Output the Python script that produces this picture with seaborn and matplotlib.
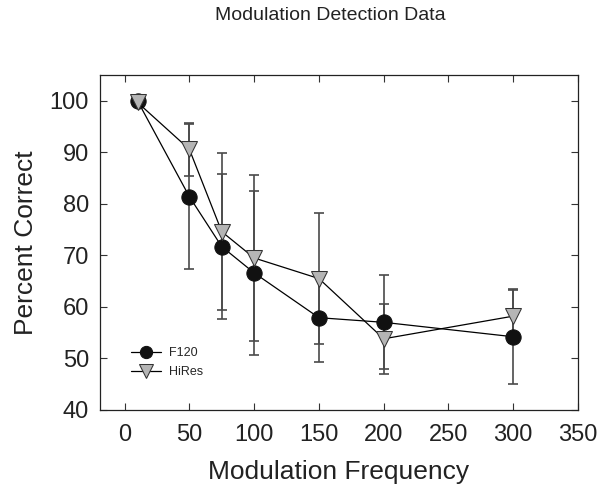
import numpy as np
import pandas as pd
import matplotlib
matplotlib.use('Agg')
import matplotlib.pyplot as plt
import seaborn as sns

# Values
freq = [10, 50, 75, 100, 150, 200, 300]
f120_mean = [100.0, 81.4, 71.7, 66.6, 57.9, 57.0, 54.2]
f120_err = [0.0, 14.1, 14.1, 16.0, 8.6, 9.1, 9.1]
hires_mean = [99.7, 90.6, 74.6, 69.5, 65.5, 53.8, 58.2]
hires_err = [0.0, 5.2, 15.2, 16.2, 12.8, 6.8, 5.3]

x_ticks = [0, 50, 100, 150, 200, 250, 300, 350]
y_ticks = [40, 50, 60, 70, 80, 90, 100]

df = pd.concat([
    pd.DataFrame({'freq': freq, 'pc': f120_mean, 'err': f120_err, 'group': 'F120'}),
    pd.DataFrame({'freq': freq, 'pc': hires_mean, 'err': hires_err, 'group': 'HiRes'}),
])

sns.set_style('ticks')
plt.rcParams['font.family'] = ['Liberation Sans', 'DejaVu Sans']

fig = plt.figure(figsize=(6, 4.98), dpi=100)
ax = fig.add_axes([0.1667, 0.177, 0.7966, 0.672])

# error bars first, underneath the markers
for name, g in df.groupby('group'):
    ax.errorbar(g['freq'], g['pc'], yerr=g['err'], fmt='none', ecolor='#4a4a4a',
                elinewidth=1.2, capsize=3.8, capthick=1.2, zorder=1)

styles = {'F120': dict(marker='o', markerfacecolor='#111111', markeredgecolor='#111111', markersize=11),
          'HiRes': dict(marker='v', markerfacecolor='#b5b5b5', markeredgecolor='#333333', markersize=12)}
for name, g in df.groupby('group'):
    sns.lineplot(data=g, x='freq', y='pc', ax=ax, color='black', linewidth=0.9,
                 label=name, zorder=3, **styles[name])

ax.set_xlim(-19, 350)
ax.set_ylim(40, 105)
ax.set_xticks(x_ticks)
ax.set_yticks(y_ticks)
ax.tick_params(direction='in', length=5, width=0.8, top=True, right=True,
               labelsize=17, pad=8, color='#333333', labelcolor='#222222')
ax.tick_params(axis='x', pad=10)
for s in ax.spines.values():
    s.set_linewidth(0.9)
    s.set_color('#222222')

ax.set_xlabel('Modulation Frequency', fontsize=19, labelpad=10, color='#222222')
ax.set_ylabel('Percent Correct', fontsize=19, labelpad=8, color='#222222')
fig.text(0.55, 0.968, 'Modulation Detection Data', ha='center', va='center',
         fontsize=14, color='#222222')

ax.legend(loc='lower left', bbox_to_anchor=(0.055, 0.08), frameon=False, fontsize=9,
          handlelength=2.4, labelspacing=0.55, borderaxespad=0, markerscale=0.8,
          handletextpad=0.6)

fig.savefig('out.png', dpi=100)
